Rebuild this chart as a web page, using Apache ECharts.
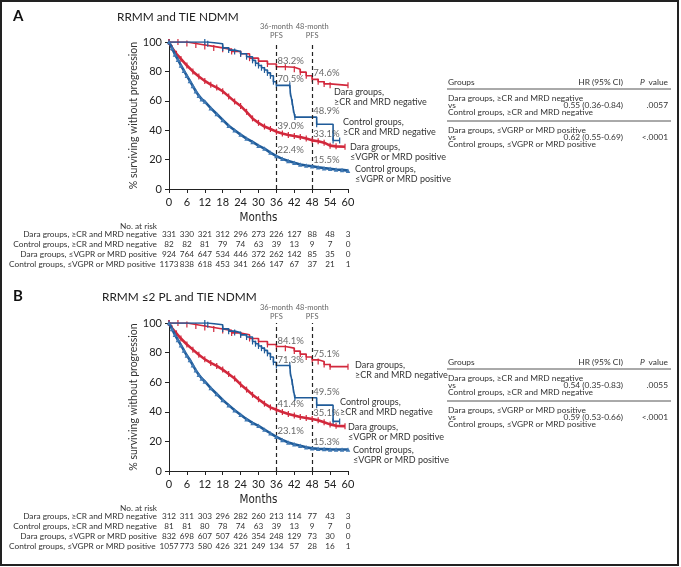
<!DOCTYPE html>
<html><head><meta charset="utf-8">
<script src="https://cdn.jsdelivr.net/npm/echarts@6/dist/echarts.min.js"></script>
<style>html,body{margin:0;padding:0;background:#fff}#c{width:681px;height:567px}</style>
</head><body><div id="c"></div>
<script>
// ---------- DATA ----------
const riskLabels = ['Dara groups, \u2265CR and MRD negative','Control groups, \u2265CR and MRD negative','Dara groups, \u2264VGPR or MRD positive','Control groups, \u2264VGPR or MRD positive'];

// Panel A: RRMM and TIE NDMM
const aDaraCR = [[0,100],[3,100],[6,99],[9,98],[12,97],[15,96],[18,95],[21,93.5],[24,92],[27,89],[30,87],[33,85],[36,83.2],[39,82.8],[42,81.5],[44,79.5],[46,77],[48,74.6],[50,73],[52,71.5],[54,70.5],[60,70.5]];
const aCtrlCR = [[0,100],[12,100],[13,98.8],[18,96],[20,94.5],[22,93.5],[24,92],[26,90],[28,87.5],[29,85.5],[30,84],[31,82.5],[32,81],[33,79],[34,77],[35,73],[36,70.5],[40.5,70.5],[40.7,65],[41.3,59],[41.7,54],[42.2,48.9],[49.5,44],[55,33],[57.2,33]];
const aDaraVG = [[0,100],[1,96],[2.5,92],[4,88.5],[6,84],[8,80],[10,76.5],[12,73.5],[14,71],[16,69],[18,66.5],[20,63],[22,59.5],[24,56.5],[26,52.5],[28,48],[30,45],[32,42.5],[34,40.8],[36,39],[38,37.8],[40,36.8],[42,36],[44,35.3],[46,34.3],[48,33.1],[50,32.5],[52,31.5],[54,29.5],[56,29],[59,28.7]];
const aCtrlVG = [[0,100],[1,96],[2,91.5],[3,88],[4,84],[5,80.5],[6,77],[7,73.5],[8,70],[9,66.5],[10,63.5],[11,61],[12,59.5],[14,55],[16,51],[18,47],[20,43],[22,40],[24,37],[26,34.3],[28,32],[30,29.5],[32,27.5],[34,24.8],[36,22.4],[38,20.5],[40,19],[42,17.8],[44,16.7],[46,16],[48,15.5],[50,14.8],[52,14.2],[54,13.8],[56,13.3],[58,13],[60,12.5]];
const aPct = [[36,83.2],[36,70.5],[36,39.0],[36,22.4],[48,74.6],[48,48.9],[48,33.1],[48,15.5]];
const aRiskDaraCR = [331,330,321,312,296,273,226,127,88,48,3];
const aRiskCtrlCR = [82,82,81,79,74,63,39,13,9,7,0];
const aRiskDaraVG = [924,764,647,534,446,372,262,142,85,35,0];
const aRiskCtrlVG = [1173,838,618,453,341,266,147,67,37,21,1];
const aHR = ['0.55 (0.36-0.84)','0.62 (0.55-0.69)'];
const aP = ['.0057','<.0001'];

// Panel B: RRMM <=2 PL and TIE NDMM
const bDaraCR = [[0,100],[3,100],[6,99],[9,98],[12,97],[15,96],[18,95],[21,93.3],[24,92],[27,89.5],[30,87.5],[33,85.5],[36,84.1],[39,83],[42,81],[44,79],[46,77],[48,75.1],[50,74],[52,72],[54,70.5],[60,70.5]];
const bCtrlCR = [[0,100],[12,100],[13,98.8],[18,96],[20,94.5],[22,93.5],[24,92],[26,90.5],[28,87.5],[29,86],[30,84.5],[31,83],[32,81.5],[33,79.5],[34,77],[35,73.5],[36,71.3],[40.5,71.3],[40.7,66],[41.3,60],[41.7,55],[42.2,49.5],[49.5,44.5],[55,33.5],[57.2,33.5]];
const bDaraVG = [[0,100],[1,96.5],[2.5,93],[4,89.5],[6,85.5],[8,82],[10,78.5],[12,75.5],[14,73],[16,71],[18,68.5],[20,65.5],[22,62.5],[24,58.5],[26,55],[28,51.5],[30,48.5],[32,45.5],[34,43],[36,41.4],[38,39.8],[40,38.5],[42,37.5],[44,36.5],[46,35.8],[48,35.1],[50,34.3],[52,33],[54,31.5],[56,30.5],[59,30.3]];
const bCtrlVG = [[0,100],[1,96],[2,92],[3,88.5],[4,85],[5,81.5],[6,78],[7,75],[8,71.5],[9,68],[10,65],[11,62.5],[12,60.5],[14,56],[16,52],[18,48],[20,44.5],[22,41],[24,38],[26,35],[28,32.5],[30,30.5],[32,28],[34,25.5],[36,23.1],[38,21],[40,19.3],[42,18],[44,17],[46,16],[48,15.3],[50,15],[52,14.8],[54,14.6],[56,14.5],[58,14.5],[60,14.5]];
const bPct = [[36,84.1],[36,71.3],[36,41.4],[36,23.1],[48,75.1],[48,49.5],[48,35.1],[48,15.3]];
const bRiskDaraCR = [312,311,303,296,282,260,213,114,77,43,3];
const bRiskCtrlCR = [81,81,80,78,74,63,39,13,9,7,0];
const bRiskDaraVG = [832,698,607,507,426,354,248,129,73,30,0];
const bRiskCtrlVG = [1057,773,580,426,321,249,134,57,28,16,1];
const bHR = ['0.54 (0.35-0.83)','0.59 (0.53-0.66)'];
const bP = ['.0055','<.0001'];

// ---------- BUILD ----------
const FONT = 'Lato';
const RED = '#d2283c', BLUE = '#1f5b99', TXT = '#333';
const panels = [
  {letter:'A', title:'RRMM and TIE NDMM', titleX:117, dy:0, gridTop:42, gridH:147,
   curves:[aDaraCR,aCtrlCR,aDaraVG,aCtrlVG], pct:aPct, risk:[aRiskDaraCR,aRiskCtrlCR,aRiskDaraVG,aRiskCtrlVG], hr:aHR, p:aP,
   endLabels:[[334,93],[343,123],[350,148],[355,170]]},
  {letter:'B', title:'RRMM \u22642 PL and TIE NDMM', titleX:102, dy:280, gridTop:323, gridH:148,
   curves:[bDaraCR,bCtrlCR,bDaraVG,bCtrlVG], pct:bPct, risk:[bRiskDaraCR,bRiskCtrlCR,bRiskDaraVG,bRiskCtrlVG], hr:bHR, p:bP,
   endLabels:[[355,366],[340,403],[348,428],[353,451]]}
];
const endText = ['Dara groups,\n\u2265CR and MRD negative','Control groups,\n\u2265CR and MRD negative','Dara groups,\n\u2264VGPR or MRD positive','Control groups,\n\u2264VGPR or MRD positive'];

const grid=[], xAxis=[], yAxis=[], series=[], graphic=[];
function txt(x,y,text,opt){
  graphic.push({type:'text', x:x, y:y, silent:true, style:Object.assign({text:text, fontSize:8.4, fontFamily:FONT, fill:TXT, align:'left', verticalAlign:'middle'}, opt||{})});
}
function hline(x1,x2,y,c){graphic.push({type:'line', silent:true, shape:{x1:x1,y1:y,x2:x2,y2:y}, style:{stroke:c||'#666', lineWidth:1}});}

graphic.push({type:'rect', silent:true, shape:{x:1,y:1,width:677,height:564}, style:{fill:'none', stroke:'#222', lineWidth:2}});

panels.forEach((P,g)=>{
  grid.push({left:169, top:P.gridTop, width:179, height:P.gridH});
  const mainX = xAxis.length;
  xAxis.push({gridIndex:g, type:'value', min:0, max:60, interval:6,
    axisLine:{lineStyle:{color:'#222', width:1}}, axisTick:{length:4, lineStyle:{color:'#222'}},
    axisLabel:{fontSize:11, color:'#222', margin:8, fontFamily:FONT, showMinLabel:true, showMaxLabel:true},
    splitLine:{show:false}, name:'Months', nameLocation:'middle', nameGap:23,
    nameTextStyle:{fontSize:11.5, fontFamily:'DejaVu Sans Condensed', color:'#222'}});
  P.risk.forEach((vals,i)=>{
    xAxis.push({gridIndex:g, type:'value', min:0, max:60, interval:6, position:'bottom', offset:45+10*i,
      axisLine:{show:false}, axisTick:{show:false}, splitLine:{show:false},
      axisLabel:{margin:0, verticalAlign:'middle', fontSize:8.2, color:TXT, fontFamily:FONT, showMinLabel:true, showMaxLabel:true,
        formatter:(v)=>String(vals[Math.round(v/6)])},
      name:riskLabels[i], nameLocation:'start', nameGap:12,
      nameTextStyle:{fontSize:8.3, color:TXT, fontFamily:FONT, align:'right', verticalAlign:'middle'}});
  });
  yAxis.push({gridIndex:g, type:'value', min:0, max:100, interval:20,
    axisLine:{show:true, lineStyle:{color:'#222', width:1}}, axisTick:{show:true, length:4, lineStyle:{color:'#222'}},
    axisLabel:{fontSize:11, color:'#222', margin:7, fontFamily:FONT}, splitLine:{show:false},
    name:'% surviving without progression', nameLocation:'middle', nameGap:30,
    nameTextStyle:{fontSize:10.5, color:'#333', fontFamily:FONT}});

  const colors=[RED,BLUE,RED,BLUE];
  P.curves.forEach((d,i)=>{
    const s={type:'line', xAxisIndex:mainX, yAxisIndex:g, data:d, silent:true,
      step: i<2 ? 'end' : false,
      lineStyle:{color:colors[i], width: i<2 ? 1.6 : 2.6},
      itemStyle:{color: i===3 ? '#3f78b3' : colors[i]},
      symbol: i===3 ? 'triangle' : 'rect', symbolSize: i===3 ? 4.5 : [1.2,6], showAllSymbol:true, z: 3+i};
    if(i===0){
      s.markLine={silent:true, symbol:['none','none'], animation:false,
        lineStyle:{color:'#222', type:[4,3], width:1.2},
        label:{position:'end', distance:2, fontSize:7.5, lineHeight:9, color:'#666', fontFamily:FONT},
        data:[{xAxis:36, label:{formatter:'36-month\nPFS'}},{xAxis:48, label:{formatter:'48-month\nPFS'}}]};
    }
    series.push(s);
  });
  series.push({type:'scatter', xAxisIndex:mainX, yAxisIndex:g, data:P.pct, symbolSize:0, silent:true, z:10,
    label:{show:true, position:'right', distance:1, offset:[0,-6], fontSize:9.5, color:'#444', fontFamily:FONT,
      formatter:(p)=>p.value[1].toFixed(1)+'%'}});

  // panel letter and title
  txt(13, 16+P.dy, P.letter, {fontSize:15, fontWeight:'bold', fill:'#111'});
  txt(P.titleX, 17+P.dy, P.title, {fontSize:11.8, fill:'#222'});
  txt(157, 226+P.dy+(g?2:0), 'No. at risk', {align:'right', fontSize:8.3});
  // curve end labels
  P.endLabels.forEach((pos,i)=>txt(pos[0], pos[1]+4, endText[i], {fontSize:9, lineHeight:9.5, fill:TXT}));
  // HR table
  const d=P.dy;
  txt(448, 82+d, 'Groups'); txt(623, 82+d, 'HR (95% CI)', {align:'right'});
  txt(668, 82+d, ' value', {align:'right'}); txt(640, 82+d, 'P', {fontStyle:'italic'});
  hline(447, 671, 89+d, '#555');
  txt(448, 98+d, 'Dara groups, \u2265CR and MRD negative'); txt(448, 105+d, 'vs');
  txt(623, 105+d, P.hr[0], {align:'right'}); txt(668, 105+d, P.p[0], {align:'right'});
  txt(448, 112+d, 'Control groups, \u2265CR and MRD negative');
  hline(447, 671, 121+d, '#555');
  txt(448, 130+d, 'Dara groups, \u2264VGRP or MRD positive'); txt(448, 137+d, 'vs');
  txt(623, 137+d, P.hr[1], {align:'right'}); txt(668, 137+d, P.p[1], {align:'right'});
  txt(448, 144+d, 'Control groups, \u2264VGPR or MRD positive');
});

const chart = echarts.init(document.getElementById('c'), null, {renderer:'canvas'});
chart.setOption({animation:false, backgroundColor:'#fff', grid, xAxis, yAxis, series, graphic});
</script></body></html>
